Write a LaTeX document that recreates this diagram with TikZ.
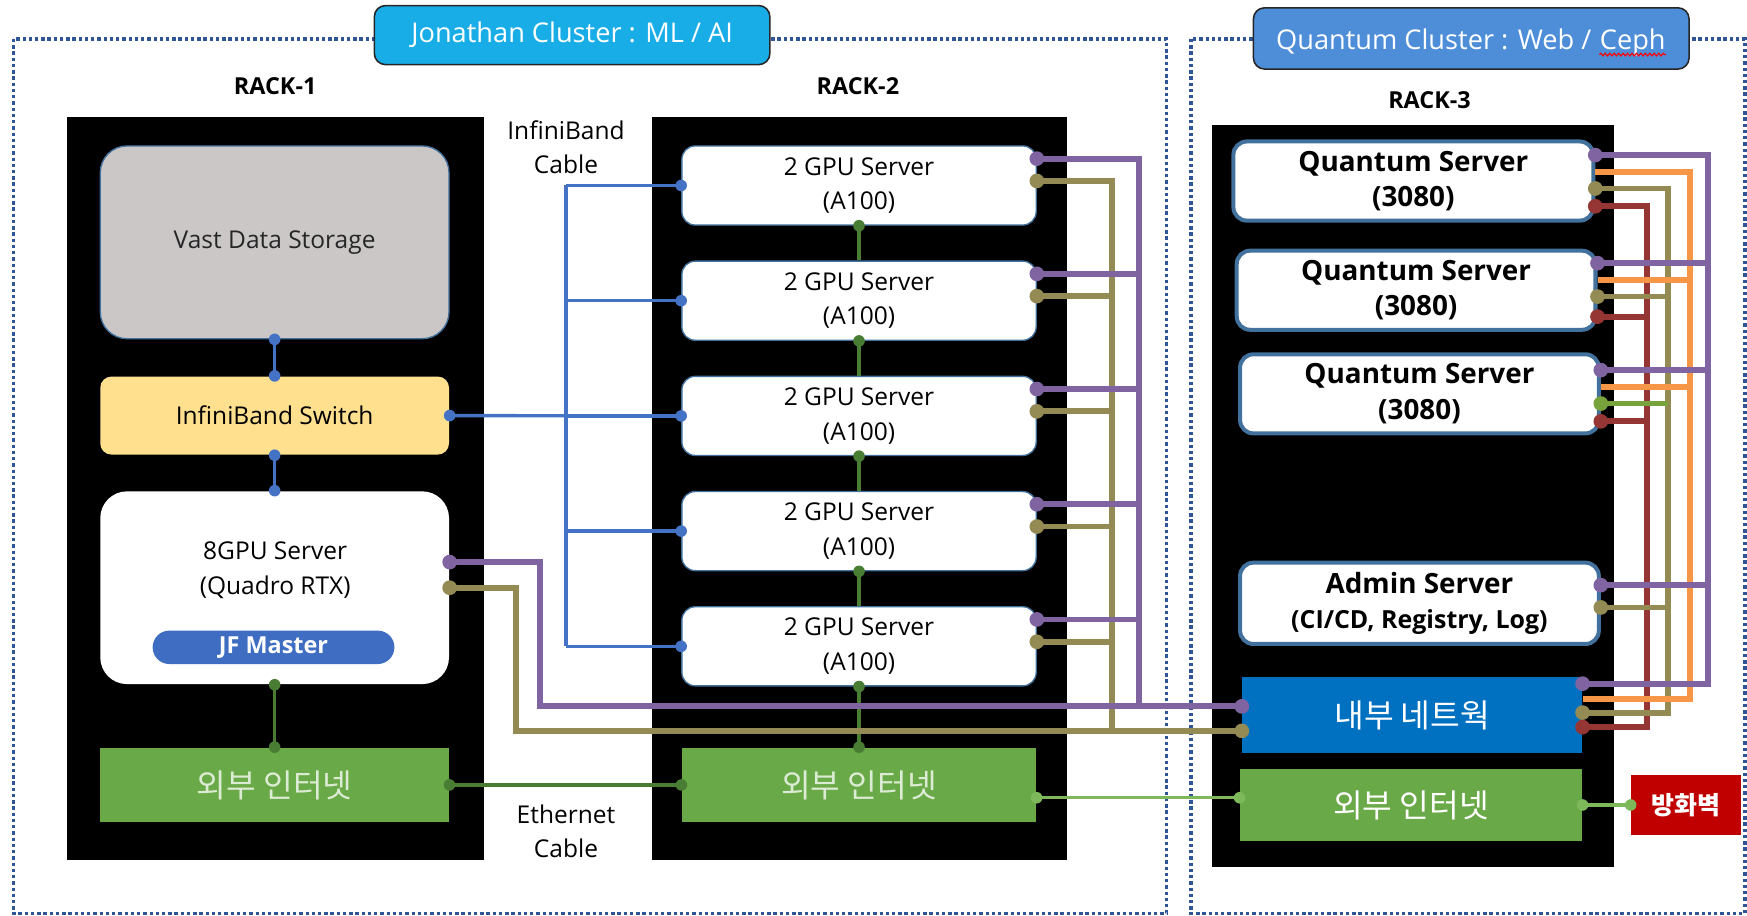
\documentclass[tikz,border=0pt]{standalone}
\usepackage{fontspec}
\setmainfont{Open Sans}
\newfontfamily\kor{Noto Sans CJK KR}
\usetikzlibrary{calc, fit, decorations.pathmorphing}

\definecolor{dotframe}{HTML}{2F5597}
\definecolor{jcyan}{HTML}{19ADE8}
\definecolor{qblue}{HTML}{4E8ED8}
\definecolor{boxline}{HTML}{41719C}
\definecolor{vastgray}{HTML}{CBC7C7}
\definecolor{swyellow}{HTML}{FFE08F}
\definecolor{ibblue}{HTML}{4472C4}
\definecolor{jfblue}{HTML}{3E6DC2}
\definecolor{netgreen}{HTML}{6AA947}
\definecolor{nettext}{HTML}{DCEBD3}
\definecolor{ethgreen}{HTML}{4A7D34}
\definecolor{lightgreen}{HTML}{7DB95B}
\definecolor{lanblue}{HTML}{0070C0}
\definecolor{fwred}{HTML}{C00000}
\definecolor{wpurple}{HTML}{8064A2}
\definecolor{wolive}{HTML}{948A54}
\definecolor{worange}{HTML}{F79646}
\definecolor{wred}{HTML}{963634}
\definecolor{wgreen}{HTML}{77A23C}

\begin{document}
\begin{tikzpicture}[x=0.5pt, y=-0.5pt,
  clusterframe/.style={dotframe, line width=1.6pt, dash pattern=on 1.5pt off 1.3pt},
  clustertitle/.style={draw=black!85, line width=0.7pt, rounded corners=5pt, inner sep=0pt},
  titletext/.style={text=white, inner sep=0pt, font=\fontsize{12.2}{14}\selectfont},
  rack/.style={fill=black, inner sep=0pt},
  rackname/.style={font=\fontsize{10.5}{12}\selectfont\bfseries},
  srv/.style={fill=white, draw=boxline, line width=0.6pt, rounded corners=6pt, inner sep=0pt},
  srvtext/.style={align=center, inner sep=0pt, font=\fontsize{11}{15.5}\selectfont},
  qsrv/.style={fill=white, draw=boxline, line width=1.8pt, rounded corners=6pt, inner sep=0pt},
  qsrvtext/.style={align=center, inner sep=0pt, font=\fontsize{12.5}{16}\selectfont\bfseries},
  flatbox/.style={inner sep=0pt},
  kortext/.style={inner sep=0pt, font=\kor\fontsize{14.5}{16}\selectfont},
  cablenote/.style={align=center, font=\fontsize{11}{15}\selectfont},
  ibcable/.style={ibblue, line width=1.5pt},
  ethcable/.style={ethgreen, line width=1.5pt},
  wancable/.style={lightgreen, line width=1.5pt},
  wire/.style={line width=2.6pt},
]
\useasboundingbox (0,0) rectangle (1568,822);

% 클러스터 영역
\draw[clusterframe] (12,35) rectangle (1047,820);
\draw[clusterframe] (1069,35) rectangle (1566,820);
\node[clustertitle, fill=jcyan, fit={(336,5) (691,58)}] (jtitle) {};
\node[titletext] at (jtitle) {Jonathan Cluster : ML / AI};
\node[clustertitle, fill=qblue, fit={(1125,7) (1516,62)}] (qtitle) {};
\node[titletext, anchor=base west] (qtxt) at (1145,44) {Quantum Cluster : Web /};
\node[titletext, anchor=base west] (ceph) at ($(qtxt.base east)+(3.4pt,0)$) {Ceph};
\draw[red, line width=0.5pt, decorate,
  decoration={snake, amplitude=0.6pt, segment length=2pt}]
  ($(ceph.base west)+(0,-2.5pt)$) -- ($(ceph.base east)+(0,-2.5pt)$);

% 랙
\node[rack, fit={(60,105) (434,772)}] (rack1) {};
\node[rack, fit={(585,105) (958,772)}] (rack2) {};
\node[rack, fit={(1088,112) (1449,778)}] (rack3) {};
\node[rackname] at (247,77) {RACK-1};
\node[rackname] at (770,77) {RACK-2};
\node[rackname] at (1283,90) {RACK-3};

% RACK-1
\node[srv, fill=vastgray, rounded corners=12pt, fit={(90,131) (403,304)}] (vast) {};
\node[srvtext, text=black!85] at (vast) {Vast Data Storage};
\node[srv, fill=swyellow, draw=none, rounded corners=5pt, fit={(90,338) (403,408)}] (ibsw) {};
\node[srvtext] at (ibsw) {InfiniBand Switch};
\node[srv, draw=none, rounded corners=12pt, fit={(90,441) (403,614)}] (gpu8) {};
\node[srvtext] at (247,512) {8GPU Server\\(Quadro RTX)};
\node[fill=jfblue, rounded corners=7.5pt, fit={(137,566) (354,596)}, inner sep=0pt] (jf) {};
\node[srvtext, text=white, font=\fontsize{10.5}{12}\selectfont\bfseries] at (jf) {JF Master};
\node[flatbox, fill=netgreen, fit={(90,671) (403,738)}] (wan1) {};
\node[kortext, text=nettext] at (wan1) {외부 인터넷};

% RACK-2
\foreach \i in {1,...,5} {
  \pgfmathsetmacro\gtop{131+103.4*(\i-1)}
  \pgfmathsetmacro\gbot{\gtop+71}
  \node[srv, fit={(612,\gtop) (930,\gbot)}] (g\i) {};
  \node[srvtext] at (g\i) {2 GPU Server\\(A100)};
}
\node[flatbox, fill=netgreen, fit={(612,671) (930,738)}] (wan2) {};
\node[kortext, text=nettext] at (wan2) {외부 인터넷};
\node[cablenote] (ibnote) at (508,132) {InfiniBand\\Cable};
\node[cablenote] (ethnote) at (508,746) {Ethernet\\Cable};

% RACK-3
\node[qsrv, fit={(1107,127) (1430,198)}] (q1) {};
\node[qsrv, fit={(1110,225) (1432,296)}] (q2) {};
\node[qsrv, fit={(1113,318) (1435,389)}] (q3) {};
\foreach \q in {q1,q2,q3} \node[qsrvtext] at (\q) {Quantum Server\\(3080)};
\node[qsrv, fit={(1113,505) (1435,578)}] (admin) {};
\node[qsrvtext] at (admin)
  {Admin Server\\{\fontsize{11.2}{13}\selectfont (CI/CD, Registry, Log)}};
\node[flatbox, fill=lanblue, fit={(1115,608) (1420,676)}] (lan) {};
\node[kortext, text=white] at (lan) {내부 네트웍};
\node[flatbox, fill=netgreen, fit={(1113,690) (1420,755)}] (wan3) {};
\node[kortext, text=white] at (wan3) {외부 인터넷};
\node[flatbox, fill=fwred, fit={(1464,696) (1563,749)}] (fw) {};
\node[kortext, text=white, font=\kor\fontsize{11.2}{12}\selectfont\bfseries] at (fw) {방화벽};

% 연결 지점
\coordinate (ibbus) at (508,0);
\coordinate (gpbus) at (1022,0);
\coordinate (gobus) at (998,0);
\coordinate (pbend) at (485,0);
\coordinate (obend) at (463,0);
\coordinate (pubus) at (1533,0);
\coordinate (orbus) at (1517,0);
\coordinate (olbus) at (1497,0);
\coordinate (rdbus) at (1478,0);
\foreach \i in {1,...,5} {
  \coordinate (g\i-pu) at ($(g\i.north east)+(0,12)$);
  \coordinate (g\i-ol) at ($(g\i.north east)+(0,32)$);
}
\coordinate (g8-pu) at ($(gpu8.east)+(0,-23)$);
\coordinate (g8-ol) at (gpu8.east);
\coordinate (lan-lp) at ($(lan.west)+(0,-8)$);
\coordinate (lan-lo) at ($(lan.west)+(0,14)$);
\foreach \q/\a/\b/\c/\d in {q1/14/29/44/60, q2/13/28/43/61, q3/16/31/46/62, lan/6/20/32/45} {
  \coordinate (\q-pu) at ($(\q.north east)+(0,\a)$);
  \coordinate (\q-or) at ($(\q.north east)+(0,\b)$);
  \coordinate (\q-ol) at ($(\q.north east)+(0,\c)$);
  \coordinate (\q-rd) at ($(\q.north east)+(0,\d)$);
}
\coordinate (adm-pu) at ($(admin.north east)+(0,22)$);
\coordinate (adm-ol) at ($(admin.north east)+(0,42)$);
\coordinate (wan2-out) at ($(wan2.east)+(0,11.5)$);
\coordinate (wan3-in) at (wan2-out -| wan3.west);

% InfiniBand
\draw[ibcable] (vast.south) -- (ibsw.north);
\draw[ibcable] (ibsw.south) -- (gpu8.north);
\draw[ibcable] (ibsw.east) -- (g3.west);
\draw[ibcable] (g1.west -| ibbus) -- (g5.west -| ibbus);
\foreach \i in {1,...,5} \draw[ibcable] (g\i.west) -- (g\i.west -| ibbus);

% Ethernet
\draw[ethcable] (gpu8.south) -- (wan1.north);
\draw[ethcable] (wan1.east) -- (wan2.west);
\foreach \i/\j in {1/2,2/3,3/4,4/5} \draw[ethcable] (g\i.south) -- (g\j.north);
\draw[ethcable] (g5.south) -- (wan2.north);
\draw[wancable] (wan2-out) -- (wan3-in);
\draw[wancable] (wan3.east) -- (fw.west);

% 내부 네트웍 배선 (RACK-1, RACK-2)
\draw[wire, wolive] (g8-ol) -| (obend |- lan-lo) -- (lan-lo);
\draw[wire, wolive] (g1-ol) -| (gobus |- lan-lo);
\foreach \i in {2,...,5} \draw[wire, wolive] (g\i-ol) -- (gobus |- g\i-ol);
\draw[wire, wpurple] (g8-pu) -| (pbend |- lan-lp) -- (lan-lp);
\draw[wire, wpurple] (g1-pu) -| (gpbus |- lan-lp);
\foreach \i in {2,...,5} \draw[wire, wpurple] (g\i-pu) -- (gpbus |- g\i-pu);

% 내부 네트웍 배선 (RACK-3)
\draw[wire, wred] (q1-rd) -| (rdbus |- lan-rd) -- (lan-rd);
\foreach \q in {q2,q3} \draw[wire, wred] (\q-rd) -- (rdbus |- \q-rd);
\draw[wire, wolive] (q1-ol) -| (olbus |- lan-ol) -- (lan-ol);
\foreach \q in {q2,adm} \draw[wire, wolive] (\q-ol) -- (olbus |- \q-ol);
\draw[wire, wgreen] (q3-ol) -- (olbus |- q3-ol);
\draw[wire, worange] (q1-or) -| (orbus |- lan-or) -- (lan-or);
\foreach \q in {q2,q3} \draw[wire, worange] (\q-or) -- (orbus |- \q-or);
\draw[wire, wpurple] (q1-pu) -| (pubus |- lan-pu) -- (lan-pu);
\foreach \q in {q2,q3,adm} \draw[wire, wpurple] (\q-pu) -- (pubus |- \q-pu);

% 접점
\foreach \pt in {vast.south, ibsw.north, ibsw.south, gpu8.north, ibsw.east,
  g1.west, g2.west, g3.west, g4.west, g5.west}
  \fill[ibblue] (\pt) circle (2.6pt);
\foreach \pt in {gpu8.south, wan1.north, wan1.east, wan2.west, g1.south, g2.south,
  g3.south, g4.south, g5.south, wan2.north}
  \fill[ethgreen] (\pt) circle (2.6pt);
\foreach \pt in {wan2-out, wan3-in, wan3.east, fw.west}
  \fill[lightgreen] (\pt) circle (2.6pt);
\foreach \pt in {g8-pu, lan-lp, g1-pu, g2-pu, g3-pu, g4-pu, g5-pu,
  q1-pu, q2-pu, q3-pu, adm-pu, lan-pu}
  \fill[wpurple] (\pt) circle (3.3pt);
\foreach \pt in {g8-ol, lan-lo, g1-ol, g2-ol, g3-ol, g4-ol, g5-ol,
  q1-ol, q2-ol, adm-ol, lan-ol}
  \fill[wolive] (\pt) circle (3.3pt);
\fill[wgreen] (q3-ol) circle (3.3pt);
\foreach \pt in {q1-rd, q2-rd, q3-rd, lan-rd}
  \fill[wred] (\pt) circle (3.3pt);
\end{tikzpicture}
\end{document}
